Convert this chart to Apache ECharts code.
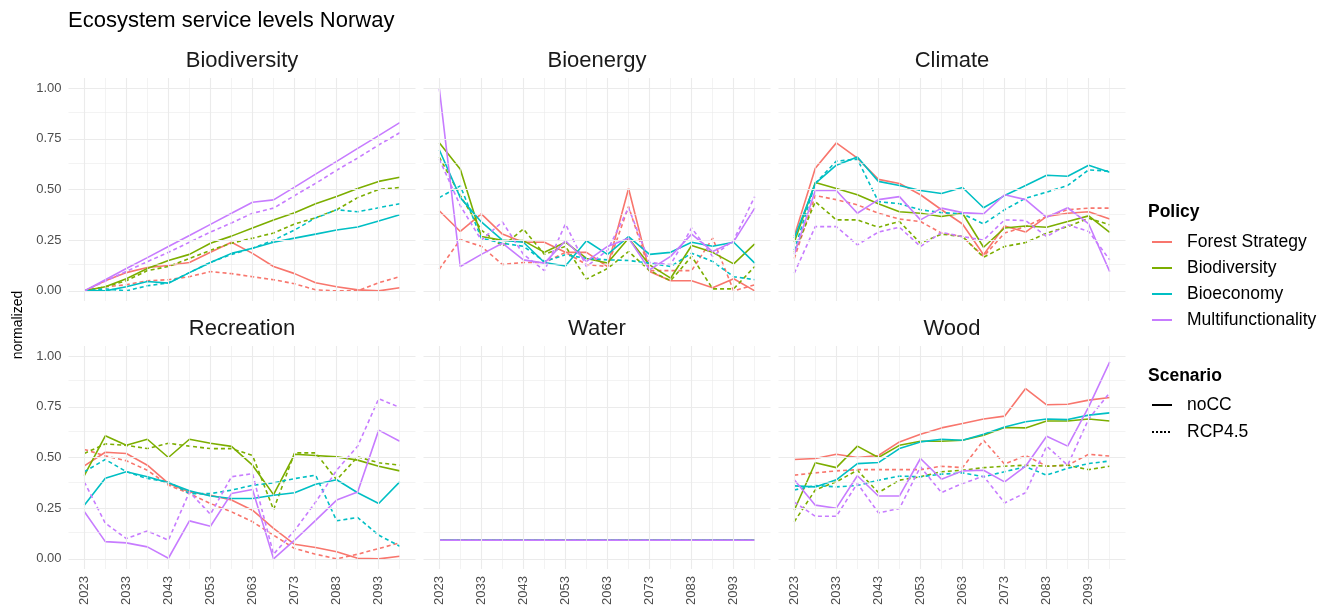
<!DOCTYPE html>
<html>
<head>
<meta charset="utf-8">
<script src="https://cdn.jsdelivr.net/npm/echarts@6/dist/echarts.min.js"></script>
<style>
  html, body { margin: 0; padding: 0; background: #fff; }
  #chart { width: 1341px; height: 613px; }
</style>
</head>
<body>
<div id="chart"></div>
<script>
// Simulation years (5-year steps)
const years = [2023, 2028, 2033, 2038, 2043, 2048, 2053, 2058, 2063, 2068, 2073, 2078, 2083, 2088, 2093, 2098];
const xTickYears = [2023, 2033, 2043, 2053, 2063, 2073, 2083, 2093];
const xMinorYears = [2028, 2038, 2048, 2058, 2068, 2078, 2088, 2098];
const yTicks = [0, 0.25, 0.5, 0.75, 1];
const yMinorTicks = [0.125, 0.375, 0.625, 0.875];

const policies = ['Forest Strategy', 'Biodiversity', 'Bioeconomy', 'Multifunctionality'];
const policyColors = ['#F8766D', '#7CAE00', '#00BFC4', '#C77CFF'];
const scenarios = ['noCC', 'RCP4.5'];
const services = ['Biodiversity', 'Bioenergy', 'Climate', 'Recreation', 'Water', 'Wood'];

// Normalized service levels, rows in policy order
const biodiversityNoCC = [
  [0, 0.05, 0.09, 0.115, 0.125, 0.14, 0.19, 0.24, 0.185, 0.12, 0.085, 0.04, 0.02, 0.005, 0, 0.015],
  [0, 0.02, 0.06, 0.11, 0.15, 0.18, 0.235, 0.27, 0.31, 0.35, 0.385, 0.43, 0.465, 0.505, 0.54, 0.56],
  [0, 0, 0.02, 0.046, 0.038, 0.09, 0.14, 0.185, 0.21, 0.24, 0.26, 0.28, 0.3, 0.315, 0.345, 0.375],
  [0, 0.055, 0.11, 0.164, 0.219, 0.273, 0.328, 0.383, 0.437, 0.449, 0.512, 0.576, 0.639, 0.703, 0.766, 0.83]
];
const biodiversityRCP = [
  [0, 0.02, 0.03, 0.05, 0.055, 0.07, 0.095, 0.085, 0.07, 0.055, 0.035, 0.005, 0, 0, 0.04, 0.07],
  [0, 0.02, 0.05, 0.1, 0.12, 0.16, 0.2, 0.235, 0.26, 0.285, 0.33, 0.36, 0.4, 0.46, 0.5, 0.51],
  [0, 0.01, 0, 0.025, 0.04, 0.09, 0.14, 0.18, 0.21, 0.25, 0.3, 0.36, 0.4, 0.39, 0.41, 0.43],
  [0, 0.048, 0.096, 0.144, 0.19, 0.24, 0.29, 0.335, 0.383, 0.408, 0.47, 0.53, 0.595, 0.655, 0.72, 0.78]
];
const bioenergyNoCC = [
  [0.395, 0.293, 0.38, 0.28, 0.24, 0.24, 0.19, 0.19, 0.12, 0.505, 0.095, 0.05, 0.05, 0.015, 0.06, 0],
  [0.73, 0.6, 0.268, 0.25, 0.248, 0.19, 0.24, 0.16, 0.137, 0.26, 0.128, 0.0625, 0.224, 0.19, 0.133, 0.232],
  [0.696, 0.46, 0.34, 0.25, 0.24, 0.14, 0.123, 0.247, 0.18, 0.268, 0.18, 0.19, 0.24, 0.22, 0.24, 0.137],
  [1.0, 0.12, 0.18, 0.235, 0.153, 0.137, 0.247, 0.145, 0.219, 0.26, 0.104, 0.17, 0.28, 0.194, 0.243, 0.408]
];
const bioenergyRCP = [
  [0.107, 0.253, 0.22, 0.13, 0.14, 0.14, 0.19, 0.13, 0.12, 0.416, 0.1, 0.1, 0.1, 0.26, 0, 0.03],
  [0.66, 0.47, 0.3, 0.22, 0.305, 0.18, 0.22, 0.058, 0.11, 0.194, 0.1, 0.05, 0.17, 0.01, 0.01, 0.12],
  [0.46, 0.518, 0.26, 0.235, 0.22, 0.145, 0.178, 0.16, 0.153, 0.15, 0.137, 0.12, 0.186, 0.145, 0.07, 0.055],
  [0.65, 0.42, 0.25, 0.34, 0.18, 0.1, 0.33, 0.12, 0.2, 0.41, 0.14, 0.13, 0.31, 0.17, 0.25, 0.465]
];
const climateNoCC = [
  [0.27, 0.605, 0.73, 0.655, 0.55, 0.53, 0.474, 0.4, 0.33, 0.178, 0.32, 0.29, 0.367, 0.383, 0.39, 0.354],
  [0.24, 0.535, 0.505, 0.474, 0.43, 0.39, 0.383, 0.367, 0.383, 0.215, 0.31, 0.32, 0.314, 0.342, 0.37, 0.288],
  [0.26, 0.53, 0.62, 0.66, 0.54, 0.52, 0.495, 0.48, 0.51, 0.41, 0.47, 0.52, 0.57, 0.565, 0.62, 0.585],
  [0.18, 0.495, 0.495, 0.383, 0.45, 0.465, 0.35, 0.408, 0.386, 0.38, 0.474, 0.45, 0.363, 0.41, 0.33, 0.095]
];
const climateRCP = [
  [0.16, 0.47, 0.45, 0.424, 0.383, 0.354, 0.342, 0.285, 0.268, 0.17, 0.285, 0.317, 0.367, 0.4, 0.408, 0.408],
  [0.19, 0.44, 0.35, 0.35, 0.314, 0.342, 0.235, 0.28, 0.268, 0.166, 0.219, 0.238, 0.285, 0.317, 0.358, 0.326],
  [0.2, 0.53, 0.64, 0.65, 0.44, 0.43, 0.4, 0.386, 0.38, 0.33, 0.4, 0.457, 0.487, 0.52, 0.597, 0.59],
  [0.087, 0.317, 0.317, 0.227, 0.29, 0.314, 0.219, 0.288, 0.268, 0.25, 0.35, 0.347, 0.268, 0.326, 0.293, 0.153]
];
const recreationNoCC = [
  [0.459, 0.526, 0.52, 0.462, 0.372, 0.33, 0.314, 0.29, 0.24, 0.15, 0.072, 0.056, 0.035, 0.003, 0, 0.013],
  [0.41, 0.607, 0.56, 0.59, 0.5, 0.59, 0.57, 0.555, 0.462, 0.317, 0.516, 0.51, 0.503, 0.487, 0.457, 0.434],
  [0.265, 0.398, 0.43, 0.405, 0.375, 0.336, 0.31, 0.298, 0.298, 0.314, 0.326, 0.368, 0.39, 0.326, 0.273, 0.38],
  [0.234, 0.085, 0.079, 0.059, 0.003, 0.1875, 0.161, 0.322, 0.342, 0, 0.092, 0.19, 0.29, 0.33, 0.635, 0.58]
];
const recreationRCP = [
  [0.54, 0.508, 0.484, 0.437, 0.364, 0.322, 0.273, 0.232, 0.183, 0.117, 0.051, 0.023, 0, 0.023, 0.051, 0.079],
  [0.52, 0.567, 0.56, 0.544, 0.57, 0.556, 0.544, 0.544, 0.51, 0.243, 0.523, 0.523, 0.39, 0.503, 0.474, 0.462],
  [0.43, 0.49, 0.43, 0.396, 0.38, 0.322, 0.322, 0.339, 0.363, 0.375, 0.396, 0.413, 0.188, 0.204, 0.117, 0.0625],
  [0.38, 0.176, 0.1, 0.138, 0.092, 0.33, 0.22, 0.405, 0.42, 0.023, 0.14, 0.28, 0.437, 0.556, 0.79, 0.747]
];
const waterNoCC = [
  [0.092, 0.092, 0.092, 0.092, 0.092, 0.092, 0.092, 0.092, 0.092, 0.092, 0.092, 0.092, 0.092, 0.092, 0.092, 0.092],
  [0.092, 0.092, 0.092, 0.092, 0.092, 0.092, 0.092, 0.092, 0.092, 0.092, 0.092, 0.092, 0.092, 0.092, 0.092, 0.092],
  [0.092, 0.092, 0.092, 0.092, 0.092, 0.092, 0.092, 0.092, 0.092, 0.092, 0.092, 0.092, 0.092, 0.092, 0.092, 0.092],
  [0.092, 0.092, 0.092, 0.092, 0.092, 0.092, 0.092, 0.092, 0.092, 0.092, 0.092, 0.092, 0.092, 0.092, 0.092, 0.092]
];
const waterRCP = [
  [0.092, 0.092, 0.092, 0.092, 0.092, 0.092, 0.092, 0.092, 0.092, 0.092, 0.092, 0.092, 0.092, 0.092, 0.092, 0.092],
  [0.092, 0.092, 0.092, 0.092, 0.092, 0.092, 0.092, 0.092, 0.092, 0.092, 0.092, 0.092, 0.092, 0.092, 0.092, 0.092],
  [0.092, 0.092, 0.092, 0.092, 0.092, 0.092, 0.092, 0.092, 0.092, 0.092, 0.092, 0.092, 0.092, 0.092, 0.092, 0.092],
  [0.092, 0.092, 0.092, 0.092, 0.092, 0.092, 0.092, 0.092, 0.092, 0.092, 0.092, 0.092, 0.092, 0.092, 0.092, 0.092]
];
const woodNoCC = [
  [0.49, 0.495, 0.516, 0.5, 0.51, 0.577, 0.615, 0.646, 0.668, 0.69, 0.704, 0.84, 0.76, 0.763, 0.783, 0.796],
  [0.24, 0.474, 0.45, 0.556, 0.5, 0.56, 0.58, 0.58, 0.585, 0.61, 0.648, 0.646, 0.68, 0.68, 0.69, 0.68],
  [0.36, 0.355, 0.39, 0.47, 0.475, 0.544, 0.577, 0.59, 0.585, 0.615, 0.65, 0.676, 0.69, 0.687, 0.709, 0.72],
  [0.39, 0.265, 0.25, 0.41, 0.31, 0.31, 0.495, 0.393, 0.434, 0.437, 0.38, 0.457, 0.605, 0.556, 0.75, 0.972]
];
const woodRCP = [
  [0.413, 0.424, 0.434, 0.44, 0.44, 0.44, 0.44, 0.457, 0.45, 0.585, 0.467, 0.51, 0.457, 0.462, 0.516, 0.507],
  [0.183, 0.34, 0.38, 0.437, 0.327, 0.388, 0.405, 0.43, 0.437, 0.45, 0.457, 0.462, 0.457, 0.462, 0.44, 0.457],
  [0.34, 0.362, 0.355, 0.362, 0.388, 0.408, 0.405, 0.418, 0.424, 0.405, 0.43, 0.454, 0.413, 0.447, 0.47, 0.483],
  [0.28, 0.21, 0.21, 0.372, 0.227, 0.248, 0.454, 0.327, 0.372, 0.408, 0.276, 0.326, 0.556, 0.462, 0.69, 0.82]
];

const panelData = [
  [biodiversityNoCC, biodiversityRCP],
  [bioenergyNoCC, bioenergyRCP],
  [climateNoCC, climateRCP],
  [recreationNoCC, recreationRCP],
  [waterNoCC, waterRCP],
  [woodNoCC, woodRCP]
];

// Facet layout (3 columns x 2 rows)
const colLeft = [68.5, 423.5, 778.5];
const rowTop = [78, 346];
const panelW = 347;
const panelH = 223;

const FONT = '"Liberation Sans", Arial, sans-serif';
const GRID_COLOR = '#EBEBEB';
const TEXT_GREY = '#4D4D4D';

const grids = [], xAxes = [], yAxes = [], series = [], graphics = [];

services.forEach((svc, i) => {
  const col = i % 3, row = Math.floor(i / 3);
  grids.push({ left: colLeft[col], top: rowTop[row], width: panelW, height: panelH });

  xAxes.push({
    type: 'value', gridIndex: i, min: 2019.25, max: 2101.75,
    axisLine: { show: false }, axisTick: { show: false }, splitLine: { show: false },
    axisLabel: {
      show: row === 1, customValues: xTickYears, rotate: 90, margin: 7,
      color: TEXT_GREY, fontSize: 13, fontFamily: FONT,
      formatter: v => String(v)
    }
  });
  yAxes.push({
    type: 'value', gridIndex: i, min: -0.05, max: 1.05,
    axisLine: { show: false }, axisTick: { show: false }, splitLine: { show: false },
    axisLabel: {
      show: col === 0, customValues: yTicks, margin: 7,
      color: TEXT_GREY, fontSize: 13, fontFamily: FONT,
      formatter: v => v.toFixed(2)
    }
  });

  // Panel grid: major and minor lines
  const major = { color: GRID_COLOR, width: 1.1, type: 'solid' };
  const minor = { color: GRID_COLOR, width: 0.6, type: 'solid' };
  const lines = [];
  yTicks.forEach(v => lines.push({ yAxis: v, lineStyle: major }));
  yMinorTicks.forEach(v => lines.push({ yAxis: v, lineStyle: minor }));
  xTickYears.forEach(v => lines.push({ xAxis: v, lineStyle: major }));
  xMinorYears.forEach(v => lines.push({ xAxis: v, lineStyle: minor }));
  series.push({
    type: 'line', xAxisIndex: i, yAxisIndex: i, data: [], silent: true, z: 1,
    markLine: {
      silent: true, symbol: ['none', 'none'], label: { show: false },
      emphasis: { disabled: true }, animation: false, data: lines
    }
  });

  // Policy x scenario lines
  policies.forEach((pol, p) => {
    scenarios.forEach((scn, s) => {
      const vals = panelData[i][s][p];
      series.push({
        type: 'line',
        name: s === 0 ? pol : pol + ' / ' + scn,
        xAxisIndex: i, yAxisIndex: i,
        data: years.map((y, k) => [y, vals[k]]),
        symbol: 'none', z: 3,
        color: policyColors[p],
        lineStyle: { width: 1.6, color: policyColors[p], type: s === 0 ? 'solid' : [4, 3] },
        emphasis: { disabled: true }
      });
    });
  });

  // Facet strip label
  graphics.push({
    type: 'text', x: colLeft[col] + panelW / 2, y: rowTop[row] - 17,
    style: { text: svc, font: '22px ' + FONT, fill: '#1A1A1A', textAlign: 'center', textVerticalAlign: 'middle' }
  });
});

// Scenario keys (black line styles)
series.push({
  type: 'line', name: 'noCC', xAxisIndex: 0, yAxisIndex: 0, data: [], symbol: 'none',
  color: '#000', lineStyle: { color: '#000', width: 1.6, type: 'solid' }
});
series.push({
  type: 'line', name: 'RCP4.5', xAxisIndex: 0, yAxisIndex: 0, data: [], symbol: 'none',
  color: '#000', lineStyle: { color: '#000', width: 1.6, type: [2, 2] }
});

graphics.push(
  { type: 'text', x: 68, y: 21,
    style: { text: 'Ecosystem service levels Norway', font: '22px ' + FONT, fill: '#000', textVerticalAlign: 'middle' } },
  { type: 'text', x: 18, y: 325, rotation: Math.PI / 2,
    style: { text: 'normalized', font: '14px ' + FONT, fill: '#000', textAlign: 'center', textVerticalAlign: 'middle' } },
  { type: 'text', x: 1148, y: 212,
    style: { text: 'Policy', font: 'bold 17.5px ' + FONT, fill: '#000', textVerticalAlign: 'middle' } },
  { type: 'text', x: 1148, y: 376,
    style: { text: 'Scenario', font: 'bold 17.5px ' + FONT, fill: '#000', textVerticalAlign: 'middle' } }
);

const legendText = { fontSize: 17.5, fontFamily: FONT, color: '#000', lineHeight: 18, padding: [0, 0, 0, 10] };

const option = {
  animation: false,
  backgroundColor: '#fff',
  grid: grids,
  xAxis: xAxes,
  yAxis: yAxes,
  series: series,
  legend: [
    { data: policies, orient: 'vertical', left: 1146, top: 228, itemWidth: 20, itemHeight: 2,
      itemGap: 8, selectedMode: false, textStyle: legendText },
    { data: scenarios, orient: 'vertical', left: 1146, top: 391, itemWidth: 20, itemHeight: 2,
      itemGap: 9, selectedMode: false, textStyle: legendText }
  ],
  graphic: graphics
};

const chart = echarts.init(document.getElementById('chart'), null, { renderer: 'canvas' });
chart.setOption(option);
</script>
</body>
</html>
